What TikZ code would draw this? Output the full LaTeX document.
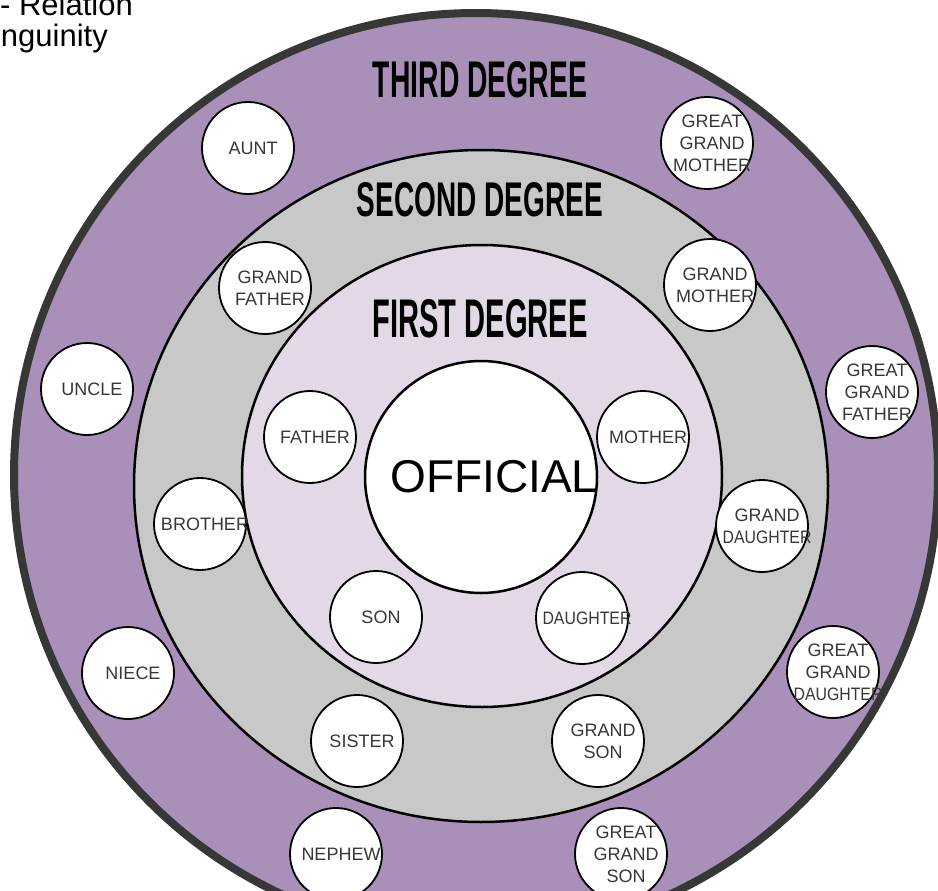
\documentclass[tikz,border=0pt]{standalone}
\usepackage{fontspec}
\usepackage{graphicx}
\setmainfont{Liberation Sans}
\definecolor{ringpurple}{RGB}{168,144,185}
\definecolor{ringgray}{RGB}{200,200,200}
\definecolor{ringlight}{RGB}{226,216,230}
\definecolor{ringdark}{RGB}{55,55,55}
\definecolor{txtgray}{RGB}{55,55,55}
\newcommand{\sq}[1]{\scalebox{0.88}[1]{#1}}
\begin{document}
\begin{tikzpicture}[x=1pt,y=-1pt,
  small/.style={circle, draw=black, line width=1.8pt, fill=white, minimum size=92pt, inner sep=0pt},
  lbl/.style={text=txtgray, font=\fontsize{18}{22}\selectfont, align=center, xshift=5pt, inner sep=0pt},
  hdr/.style={inner sep=0pt, text=black, font=\bfseries}]
\useasboundingbox (0,0) rectangle (938,891);
\begin{scope}
\clip (0,0) rectangle (938,891);
\filldraw[fill=ringpurple, draw=ringdark, line width=8pt] (476,475) circle (462);
\filldraw[fill=ringgray, draw=black, line width=2.5pt] (481,486) ellipse (347 and 336);
\filldraw[fill=ringlight, draw=black, line width=2.5pt] (482,476) ellipse (240 and 231);
\end{scope}
% title
\node[anchor=base east, inner sep=0pt, font=\fontsize{31}{31}\selectfont] (t1) at (133,16) {- Relation};
\node[anchor=base east, inner sep=0pt, font=\fontsize{31}{31}\selectfont] (t2) at (108,47) {nguinity};
% headers
\node[hdr] (third) at (480,80) {\resizebox{214pt}{36pt}{THIRD DEGREE}};
\node[hdr] (second) at (480,200) {\resizebox{246pt}{34pt}{SECOND DEGREE}};
\node[hdr] (first) at (480,319) {\resizebox{215pt}{38pt}{FIRST DEGREE}};
% official
\node[circle, draw=black, line width=2.5pt, fill=white, minimum size=232pt, inner sep=0pt] (off) at (481,477) {};
\node[inner sep=0pt, font=\fontsize{46}{46}\selectfont, xshift=13pt] (offt) at (off) {OFFICIAL};
% small circles
\node[small] (aunt) at (248,148) {};   \node[lbl] (aunt-t) at (aunt) {AUNT};
\node[small] (ggm) at (707,143) {};   \node[lbl] (ggm-t) at (ggm) {GREAT\\GRAND\\MOTHER};
\node[small] (gf) at (265,288) {};    \node[lbl] (gf-t) at (gf) {GRAND\\FATHER};
\node[small] (gm) at (710,285) {};    \node[lbl] (gm-t) at (gm) {GRAND\\MOTHER};
\node[small] (uncle) at (87,389) {};  \node[lbl] (uncle-t) at (uncle) {UNCLE};
\node[small] (ggf) at (872,392) {};   \node[lbl] (ggf-t) at (ggf) {GREAT\\GRAND\\FATHER};
\node[small] (father) at (310,437) {};\node[lbl] (father-t) at (father) {FATHER};
\node[small] (mother) at (643,437) {};\node[lbl] (mother-t) at (mother) {MOTHER};
\node[small] (brother) at (200,524) {};\node[lbl] (brother-t) at (brother) {BROTHER};
\node[small] (gd) at (762,526) {};    \node[lbl] (gd-t) at (gd) {GRAND\\\sq{DAUGHTER}};
\node[small] (son) at (376,617) {};   \node[lbl] (son-t) at (son) {SON};
\node[small] (daughter) at (582,618) {};\node[lbl] (daughter-t) at (daughter) {\sq{DAUGHTER}};
\node[small] (niece) at (128,673) {}; \node[lbl] (niece-t) at (niece) {NIECE};
\node[small] (ggd) at (833,672) {};   \node[lbl] (ggd-t) at (ggd) {GREAT\\GRAND\\\sq{DAUGHTER}};
\node[small] (sister) at (357,741) {};\node[lbl] (sister-t) at (sister) {SISTER};
\node[small] (gs) at (598,741) {};    \node[lbl] (gs-t) at (gs) {GRAND\\SON};
\node[small] (nephew) at (336,854) {};\node[lbl] (nephew-t) at (nephew) {NEPHEW};
\node[small] (ggs) at (621,854) {};   \node[lbl] (ggs-t) at (ggs) {GREAT\\GRAND\\SON};
\end{tikzpicture}
\end{document}
